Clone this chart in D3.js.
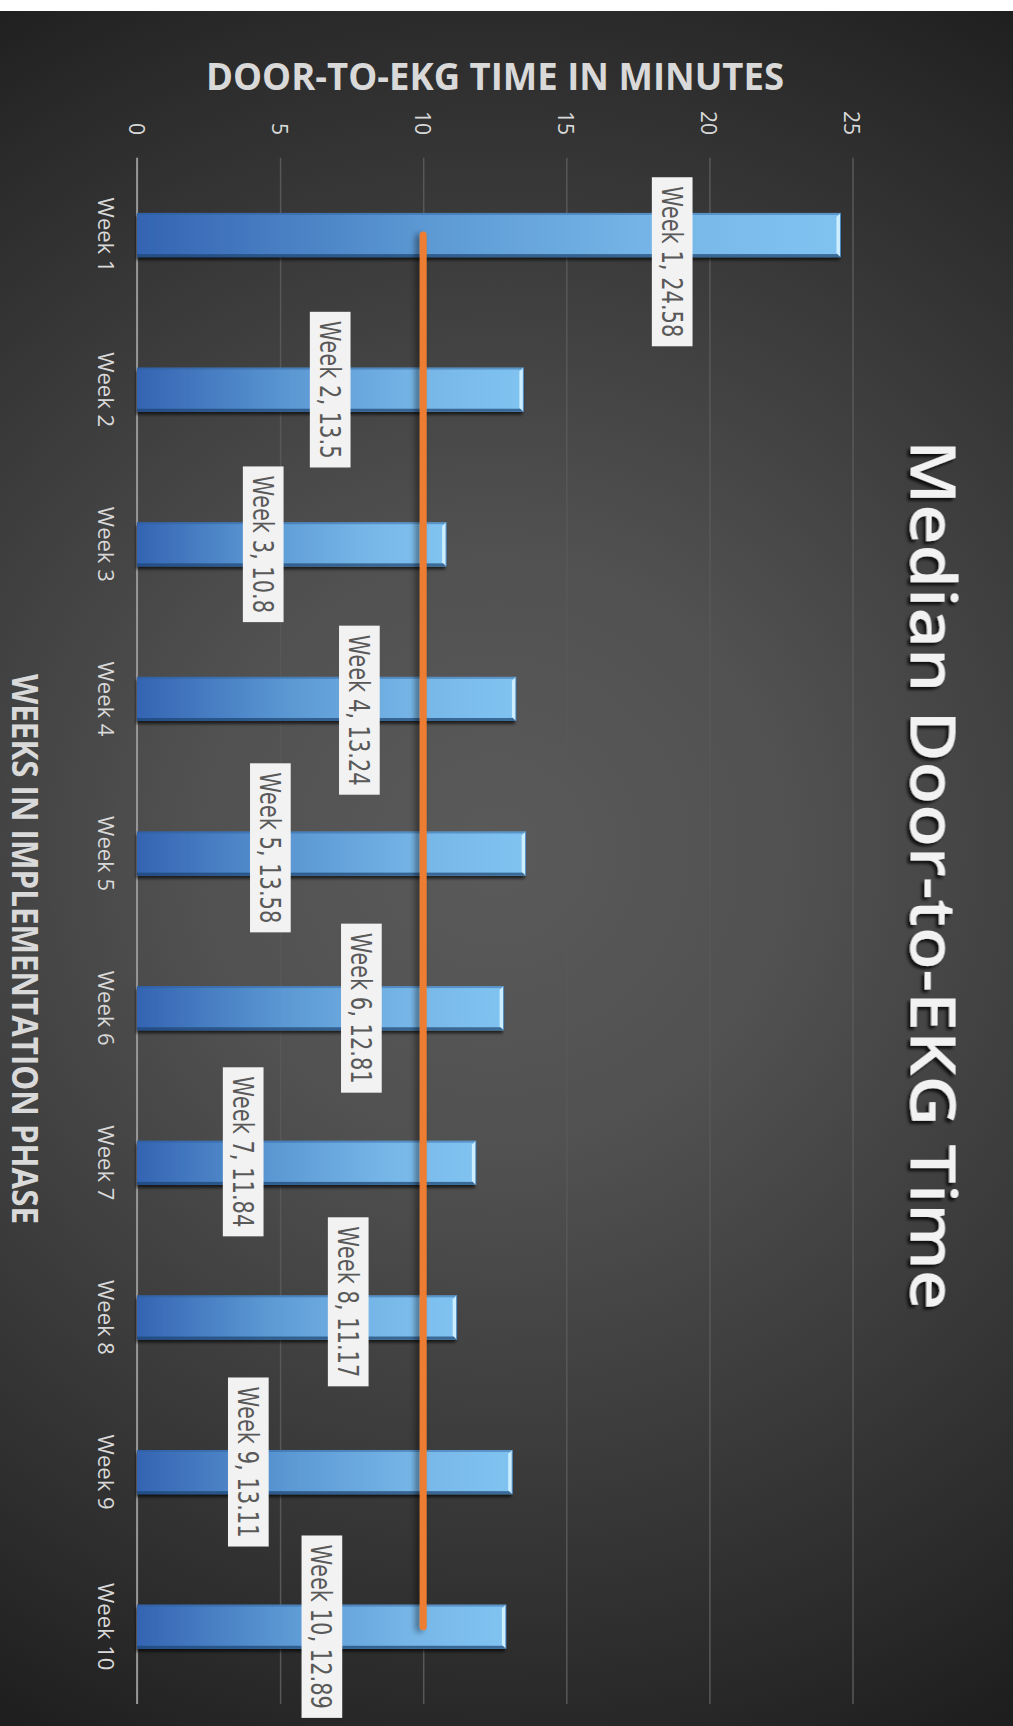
<!DOCTYPE html>
<html>
<head>
<meta charset="utf-8">
<script src="https://cdn.jsdelivr.net/npm/d3@7"></script>
<style>
  html, body { margin: 0; padding: 0; background: #ffffff; }
  svg { display: block; }
</style>
</head>
<body>
<svg id="chart" width="1013" height="1726"></svg>
<script>
// ---- data ----
const categories = ["Week 1","Week 2","Week 3","Week 4","Week 5","Week 6","Week 7","Week 8","Week 9","Week 10"];
const medianMinutes = [24.58, 13.5, 10.8, 13.24, 13.58, 12.81, 11.84, 11.17, 13.11, 12.89];
const targetMinutes = [10, 10, 10, 10, 10, 10, 10, 10, 10, 10];
const valueTicks = [0, 5, 10, 15, 20, 25];
// where each data label was placed (value in minutes at its centre, shift in bands)
const labelAnchor = [18.70, 6.75, 4.41, 7.77, 4.66, 7.84, 3.71, 7.38, 3.89, 6.46];
const labelShift = [0.173, 0, 0, 0.073, -0.037, 0, -0.071, -0.101, -0.065, 0];
const chartTitle = "Median Door-to-EKG Time";
const valueAxisTitle = "DOOR-TO-EKG TIME IN MINUTES";
const categoryAxisTitle = "WEEKS IN IMPLEMENTATION PHASE";

const W = 1013, H = 1726;
const svg = d3.select("#chart");
const defs = svg.append("defs");

// background radial gradient
const bg = defs.append("radialGradient").attr("id", "bgGrad")
  .attr("gradientUnits", "userSpaceOnUse")
  .attr("cx", 495).attr("cy", 850).attr("r", 1000);
[[0, "#5a5a5a"], [0.3, "#515151"], [0.6, "#3c3c3c"], [0.85, "#2a2a2a"], [1, "#1e1e1e"]]
  .forEach(([o, c]) => bg.append("stop").attr("offset", o).attr("stop-color", c));

const barGrad = defs.append("linearGradient").attr("id", "barGrad")
  .attr("x1", 0).attr("x2", 1).attr("y1", 0).attr("y2", 0);
[[0, "#3464b2"], [0.4, "#5b98d3"], [0.75, "#77b7e8"], [1, "#80c3f1"]]
  .forEach(([o, c]) => barGrad.append("stop").attr("offset", o).attr("stop-color", c));

const barShadow = defs.append("filter").attr("id", "barShadow")
  .attr("x", "-10%").attr("y", "-30%").attr("width", "120%").attr("height", "170%");
barShadow.append("feDropShadow").attr("dx", -1).attr("dy", 3).attr("stdDeviation", 1.6)
  .attr("flood-color", "#000").attr("flood-opacity", 0.65);

const lineShadow = defs.append("filter").attr("id", "lineShadow")
  .attr("filterUnits", "userSpaceOnUse")
  .attr("x", 0).attr("y", 0).attr("width", W).attr("height", H);
lineShadow.append("feDropShadow").attr("dx", -4).attr("dy", 2).attr("stdDeviation", 3)
  .attr("flood-color", "#000").attr("flood-opacity", 0.45);

const titleShadow = defs.append("filter").attr("id", "titleShadow")
  .attr("x", "-10%").attr("y", "-30%").attr("width", "120%").attr("height", "160%");
titleShadow.append("feDropShadow").attr("dx", 3).attr("dy", 3).attr("stdDeviation", 1.8)
  .attr("flood-color", "#000").attr("flood-opacity", 0.75);

svg.append("rect").attr("x", 0).attr("y", 11).attr("width", W).attr("height", H - 11)
  .attr("fill", "url(#bgGrad)");

// ---- scales ----
const plotTop = 157.7, plotBottom = 1704;
const x = d3.scaleLinear().domain([0, 25]).range([137, 852.5]);
const y = d3.scaleBand().domain(categories).range([plotTop, plotBottom])
  .paddingInner(2.5 / 3.5).paddingOuter(1.25 / 3.5);
const yc = c => y(c) + y.bandwidth() / 2;

// ---- value axis (gridlines + rotated tick labels) ----
const xAxis = svg.append("g").attr("transform", `translate(0,${plotTop})`)
  .call(d3.axisTop(x).tickValues(valueTicks).tickSize(-(plotBottom - plotTop)).tickFormat(d3.format("d")));
xAxis.select(".domain").remove();
xAxis.selectAll(".tick line").attr("stroke", "#585858").attr("stroke-width", 1.5);
xAxis.selectAll(".tick text")
  .attr("x", 0).attr("y", 0).attr("dy", 0)
  .attr("transform", `translate(-8.9,${135 - plotTop}) rotate(90)`)
  .attr("text-anchor", "end")
  .attr("fill", "#d9d9d9")
  .style("font-family", "'Open Sans', sans-serif").style("font-size", "21px");

// ---- category axis ----
const yAxis = svg.append("g").attr("transform", `translate(${x(0)},0)`)
  .call(d3.axisLeft(y).tickSize(0));
yAxis.select(".domain").remove();
yAxis.selectAll(".tick text")
  .attr("x", 0).attr("y", 0).attr("dy", 0)
  .attr("transform", "translate(-39.3,0) rotate(90)")
  .attr("text-anchor", "middle")
  .attr("fill", "#d9d9d9")
  .style("font-family", "'Open Sans', sans-serif").style("font-size", "22px");

svg.append("line").attr("x1", x(0)).attr("x2", x(0)).attr("y1", plotTop).attr("y2", plotBottom)
  .attr("stroke", "#a6a6a6").attr("stroke-width", 1.6);

// ---- bars ----
const bars = svg.append("g").selectAll("g.bar").data(categories).join("g").attr("class", "bar");
bars.append("rect")
  .attr("x", x(0)).attr("y", c => y(c))
  .attr("width", (c, i) => x(medianMinutes[i]) - x(0))
  .attr("height", y.bandwidth())
  .attr("fill", "url(#barGrad)")
  .attr("filter", "url(#barShadow)");
bars.append("rect")
  .attr("x", x(0)).attr("y", c => y(c))
  .attr("width", (c, i) => x(medianMinutes[i]) - x(0))
  .attr("height", 2).attr("fill", "#2c5e9a").attr("opacity", 0.45);
bars.append("rect")
  .attr("x", x(0)).attr("y", c => y(c) + y.bandwidth() - 3)
  .attr("width", (c, i) => x(medianMinutes[i]) - x(0))
  .attr("height", 3).attr("fill", "#1d4472").attr("opacity", 0.7);
bars.append("path")
  .attr("d", (c, i) => {
    const xe = x(medianMinutes[i]), y0 = y(c), y1 = y(c) + y.bandwidth();
    return `M${xe - 4},${y0 + 4}L${xe},${y0}L${xe},${y1}L${xe - 4},${y1 - 4}Z`;
  })
  .attr("fill", "#cdeeff");
bars.append("line")
  .attr("x1", (c, i) => x(medianMinutes[i])).attr("x2", (c, i) => x(medianMinutes[i]))
  .attr("y1", c => y(c)).attr("y2", c => y(c) + y.bandwidth())
  .attr("stroke", "#4a86bf").attr("stroke-width", 1);

// ---- target line ----
const line = d3.line().x(d => x(d.v)).y(d => yc(d.c));
svg.append("path")
  .datum(categories.map((c, i) => ({ c, v: targetMinutes[i] })))
  .attr("d", line)
  .attr("fill", "none").attr("stroke", "#ed7d31").attr("stroke-width", 7)
  .attr("stroke-linecap", "round").attr("stroke-linejoin", "round")
  .attr("filter", "url(#lineShadow)");

// ---- data labels ----
const labels = svg.append("g").selectAll("g.lbl").data(categories).join("g").attr("class", "lbl")
  .attr("transform", (c, i) => `translate(${x(labelAnchor[i])},${yc(c) + labelShift[i] * y.step()}) rotate(90)`);
labels.each(function (c, i) {
  const g = d3.select(this);
  const rect = g.append("rect").attr("fill", "#f2f2f2");
  const t = g.append("text")
    .attr("x", 0).attr("y", 10.5)
    .attr("text-anchor", "middle")
    .attr("fill", "#595959")
    .style("font-family", "'DejaVu Sans', sans-serif").style("font-size", "28px")
    .text(`${c}, ${medianMinutes[i]}`);
  const natural = t.node().getComputedTextLength();
  const tl = natural * 0.75;
  t.attr("textLength", tl).attr("lengthAdjust", "spacingAndGlyphs");
  const len = tl + 18;
  rect.attr("x", -len / 2).attr("y", -20.35).attr("width", len).attr("height", 40.7);
});

// ---- titles ----
svg.append("text")
  .attr("transform", "translate(910.6,875) rotate(90)")
  .attr("text-anchor", "middle")
  .attr("textLength", 870).attr("lengthAdjust", "spacingAndGlyphs")
  .attr("fill", "#f2f2f2")
  .attr("filter", "url(#titleShadow)")
  .style("font-family", "'Open Sans', sans-serif").style("font-size", "63px").style("font-weight", 600)
  .text(chartTitle);

svg.append("text")
  .attr("x", 495).attr("y", 90)
  .attr("text-anchor", "middle")
  .attr("textLength", 578).attr("lengthAdjust", "spacingAndGlyphs")
  .attr("fill", "#d9d9d9")
  .style("font-family", "'Open Sans', sans-serif").style("font-size", "37.4px").style("font-weight", 700)
  .text(valueAxisTitle);

svg.append("text")
  .attr("transform", "translate(11.7,949) rotate(90)")
  .attr("text-anchor", "middle")
  .attr("textLength", 550).attr("lengthAdjust", "spacingAndGlyphs")
  .attr("fill", "#d9d9d9")
  .style("font-family", "'Open Sans', sans-serif").style("font-size", "35px").style("font-weight", 700)
  .text(categoryAxisTitle);
</script>
</body>
</html>
